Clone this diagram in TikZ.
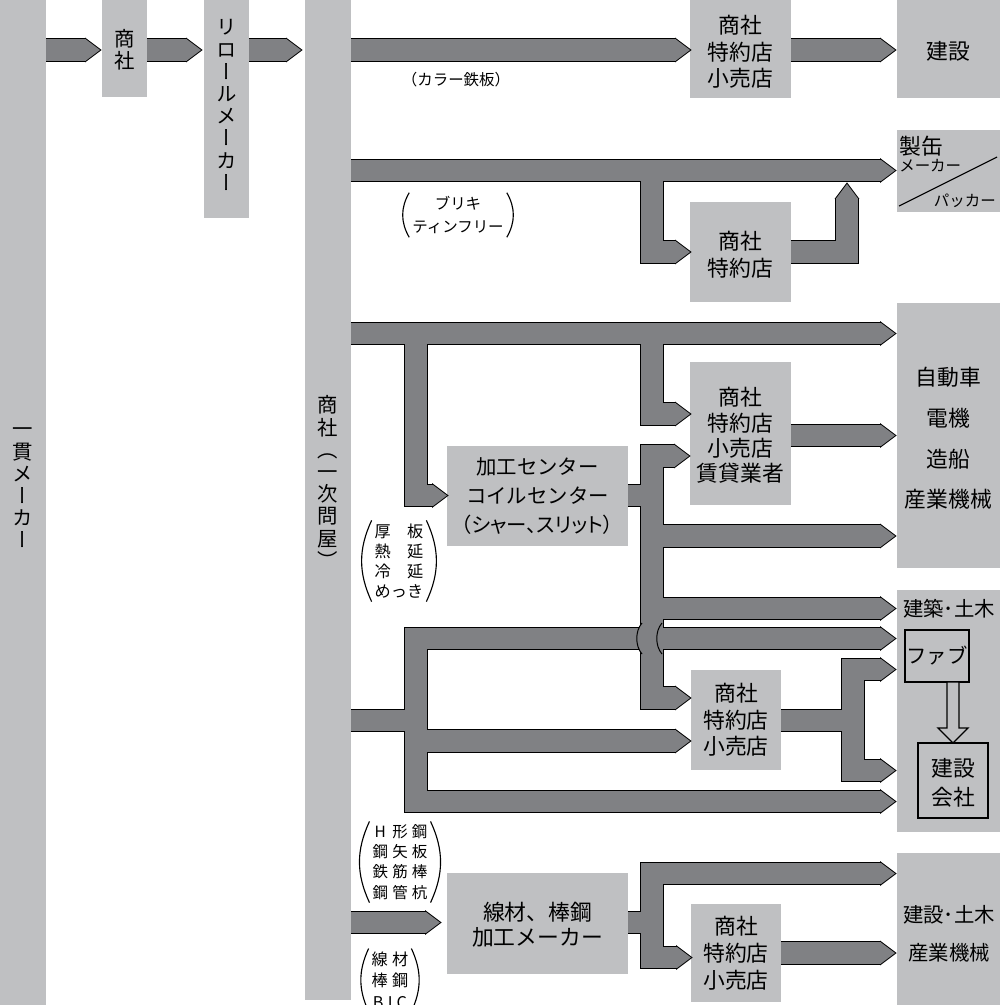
\documentclass[tikz,border=0pt]{standalone}
\usepackage{fontspec}
\setmainfont{Noto Sans CJK JP}
\newfontfamily\vfont[RawFeature=+vert]{Noto Sans CJK JP}
\newfontfamily\pfont[RawFeature=+palt]{Noto Sans CJK JP}
\usetikzlibrary{fit, calc}
\definecolor{boxgray}{RGB}{191,192,194}
\definecolor{arrowgray}{RGB}{128,129,132}

\tikzset{
  box/.style={fill=boxgray, inner sep=0pt, outer sep=0pt},
  inbox/.style={box, draw=black, line width=0.9pt},
  boxtext/.style={align=center, inner sep=0pt, font=\fontsize{15.5}{19}\selectfont},
  vtext/.style={align=center, inner sep=0pt, font=\vfont\fontsize{14.5}{15.8}\selectfont},
  note/.style={align=center, inner sep=2pt, font=\fontsize{11}{15}\selectfont},
  paren/.style={draw=black, line width=0.8pt},
  edgeline/.style={draw=black, line width=16.4pt, line join=miter},
  edgetip/.style={fill=black, draw=black, line width=1.4pt, line join=miter},
  coreline/.style={draw=arrowgray, line width=15pt, line join=miter},
  coretip/.style={fill=arrowgray},
  hollow/.style={fill=boxgray, draw=black, line width=0.9pt, line join=miter}
}

% tip of a flow arrow: [style]{x}{y}
\newcommand{\tipR}[3][]{\path[#1] ({#2-14},{#3-10.5}) -- (#2,#3) -- ({#2-14},{#3+10.5}) -- cycle;}
\newcommand{\tipU}[3][]{\path[#1] ({#2-10.5},{#3+14}) -- (#2,#3) -- ({#2+10.5},{#3+14}) -- cycle;}
\newcommand{\gapc}{\hspace{3pt}}

% all flow arrows; #1 line style, #2 tip style
\newcommand{\flows}[2]{%
  % top row
  \path[#1] (46,50) -- (86,50); \tipR[#2]{100}{50}
  \path[#1] (147,50) -- (187,50); \tipR[#2]{201}{50}
  \path[#1] (249,50) -- (287,50); \tipR[#2]{301}{50}
  \path[#1] (351,50) -- (676,50); \tipR[#2]{690}{50}
  \path[#1] (791,50) -- (881,50); \tipR[#2]{895}{50}
  % tinplate
  \path[#1] (351,170.5) -- (881,170.5); \tipR[#2]{895}{170.5}
  \path[#1] (652,170.5) -- (652,252) -- (676,252); \tipR[#2]{690}{252}
  \path[#1] (791,252) -- (847,252) -- (847,198); \tipU[#2]{847}{184}
  % sheets
  \path[#1] (351,333.5) -- (881,333.5); \tipR[#2]{895}{333.5}
  \path[#1] (416,333.5) -- (416,495.5) -- (433,495.5); \tipR[#2]{447}{495.5}
  \path[#1] (652,333.5) -- (652,414) -- (676,414); \tipR[#2]{690}{414}
  \path[#1] (791,435.5) -- (881,435.5); \tipR[#2]{895}{435.5}
  \path[#1] (628,495.5) -- (652,495.5);
  \path[#1] (675,456) -- (652,456) -- (652,698) -- (676,698);
  \tipR[#2]{689}{456} \tipR[#2]{690}{698}
  \path[#1] (652,536) -- (881,536); \tipR[#2]{895}{536}
  \path[#1] (652,608.5) -- (881,608.5); \tipR[#2]{895}{608.5}
  % building
  \path[#1] (881,638.5) -- (416,638.5) -- (416,801.5) -- (881,801.5);
  \tipR[#2]{895}{638.5} \tipR[#2]{895}{801.5}
  \path[#1] (351,720.5) -- (416,720.5);
  \path[#1] (416,741) -- (676,741); \tipR[#2]{690}{741}
  \path[#1] (781,720.5) -- (853,720.5);
  \path[#1] (881,669.5) -- (853,669.5) -- (853,770.5) -- (881,770.5);
  \tipR[#2]{895}{669.5} \tipR[#2]{895}{770.5}
  % bars and wire rod
  \path[#1] (351,922.5) -- (426,922.5); \tipR[#2]{440}{922.5}
  \path[#1] (628,922.5) -- (652,922.5);
  \path[#1] (881,873.5) -- (652,873.5) -- (652,957.5) -- (677,957.5);
  \tipR[#2]{895}{873.5} \tipR[#2]{691}{957.5}
  \path[#1] (781,953) -- (881,953); \tipR[#2]{895}{953}
}

\begin{document}
\begin{tikzpicture}[x=0.025cm, y=-0.025cm]
  \useasboundingbox (0,0) rectangle (1000,1005);

  % makers and wholesalers
  \node[box, fit={(0,0) (46,1005)}] (ikkan) {};
  \node[vtext] (ikkan-t) at (23,488) {一\\貫\\メ\\ー\\カ\\ー};
  \node[box, fit={(102,0) (147,97)}] (shosha) {};
  \node[vtext] (shosha-t) at (124.5,50) {商\\社};
  \node[box, fit={(204,0) (249,218)}] (reroll) {};
  \node[vtext] (reroll-t) at (226.5,105) {リ\\ロ\\ー\\ル\\メ\\ー\\カ\\ー};
  \node[box, fit={(305,0) (351,1000)}] (tonya) {};
  \node[vtext] (tonya-t) at (328,482) {商\\社\\（\\一\\次\\問\\屋\\）};

  % dealers
  \node[box, fit={(690,0) (791,98)}] (dealer-a) {};
  \node[boxtext] (dealer-a-t) at ($(dealer-a)+(0,3)$) {商社\\特約店\\小売店};
  \node[box, fit={(690,202) (791,302)}] (dealer-b) {};
  \node[boxtext] (dealer-b-t) at ($(dealer-b)+(0,3)$) {商社\\特約店};
  \node[box, fit={(690,362) (791,505)}] (dealer-c) {};
  \node[boxtext, font=\fontsize{15.5}{18}\selectfont] (dealer-c-t) at ($(dealer-c)+(0,2)$) {商社\\特約店\\小売店\\賃貸業者};
  \node[box, fit={(691,670) (781,770)}] (dealer-d) {};
  \node[boxtext] (dealer-d-t) at (dealer-d) {商社\\特約店\\小売店};
  \node[box, fit={(691,904) (781,1002)}] (dealer-e) {};
  \node[boxtext] (dealer-e-t) at (dealer-e) {商社\\特約店\\小売店};

  % processors
  \node[box, fit={(447,446) (628,546)}] (coil) {};
  \node[boxtext, font=\fontsize{14.5}{20.5}\selectfont] (coil-t) at (coil) {加工センター\\コイルセンター\\{\pfont （シャー、スリット）}};
  \node[box, fit={(447,873) (628,974)}] (wire) {};
  \node[boxtext, font=\fontsize{15.5}{17.8}\selectfont] (wire-t) at ($(wire)+(0,1)$) {線材、棒鋼\\加工メーカー};

  % users
  \node[box, fit={(897,0) (1000,98)}] (kensetsu) {};
  \node[boxtext] (kensetsu-t) at ($(kensetsu)+(0,2)$) {建設};
  \node[box, fit={(897,130) (1000,212)}] (seikan) {};
  \node[anchor=west, inner sep=0pt, font=\fontsize{15.5}{16}\selectfont] (seikan-a) at (899,146) {製缶};
  \node[anchor=west, inner sep=0pt, font=\fontsize{11}{12}\selectfont] (seikan-b) at (899,166) {メーカー};
  \node[anchor=east, inner sep=0pt, font=\fontsize{11}{12}\selectfont] (seikan-c) at (996,201) {パッカー};
  \draw[line width=0.8pt] ($(seikan.south west)+(2,-6)$) -- ($(seikan.north east)+(-3,27)$);
  \node[box, fit={(897,303) (1000,568)}] (jidosha) {};
  \node[boxtext, font=\fontsize{15.5}{29}\selectfont] (jidosha-t) at ($(jidosha)+(0,3)$) {自動車\\電機\\造船\\産業機械};
  \node[box, fit={(897,590) (1000,832)}] (kenchiku) {};
  \node[boxtext, font=\fontsize{14.5}{18}\selectfont] (kenchiku-t) at (949,609) {建築･土木};
  \node[inbox, fit={(905,630) (969,682)}] (fab) {};
  \node[boxtext, font=\fontsize{14.5}{18}\selectfont] (fab-t) at (fab) {ファブ};
  \node[inbox, fit={(918,743) (988,818)}] (kaisha) {};
  \node[boxtext, font=\fontsize{15.5}{20.6}\selectfont] (kaisha-t) at ($(kaisha)+(0,2)$) {建設\\会社};
  \node[box, fit={(897,853) (1000,1015)}] (kensetsu-b) {};
  \node[boxtext, font=\fontsize{14.5}{27}\selectfont] (kensetsu-b-t) at (949,934) {建設･土木\\産業機械};

  % flow arrows: outline first, then the fill
  \flows{edgeline}{edgetip}
  \flows{coreline}{coretip}

  % jump where the trunk crosses the bar
  \fill[arrowgray] (642,623) .. controls (635,631) and (635,646) .. (642,654) -- cycle;
  \draw[line width=0.7pt] (642,623) .. controls (635,631) and (635,646) .. (642,654);
  \draw[line width=0.7pt] (662,623) .. controls (655,631) and (655,646) .. (662,654);

  % fab -> contractor
  \draw[hollow] (fab.south -| kaisha.north) ++(-6,0) -- ++(0,46) -- ++(-9,0) -- (kaisha.north)
    -- ++(15,-15) -- ++(-9,0) -- ++(0,-46) -- cycle;

  % product notes
  \node[note] (karaa) at (456,80) {（カラー鉄板）};
  \node[note, font=\fontsize{11}{17}\selectfont] (buriki) at (458,215) {ブリキ\\ティンフリー};
  \draw[paren] (buriki.north west) to[bend right=30] (buriki.south west);
  \draw[paren] (buriki.north east) to[bend left=30] (buriki.south east);
  \node[note, font=\fontsize{11.5}{14.4}\selectfont] (atsuita) at (399,561) {厚　板\\熱　延\\冷　延\\めっき};
  \draw[paren] (atsuita.north west) to[bend right=25] (atsuita.south west);
  \draw[paren] (atsuita.north east) to[bend left=25] (atsuita.south east);
  \node[note, font=\fontsize{11}{14.4}\selectfont] (kozai) at (400,862) {\makebox[1em]{H}\gapc 形\gapc 鋼\\鋼\gapc 矢\gapc 板\\鉄\gapc 筋\gapc 棒\\鋼\gapc 管\gapc 杭};
  \draw[paren] (kozai.north west) to[bend right=25] (kozai.south west);
  \draw[paren] (kozai.north east) to[bend left=25] (kozai.south east);
  \node[note, font=\fontsize{11.5}{15.3}\selectfont] (senzai) at (390,980) {線\gapc 材\\棒\gapc 鋼\\B\hspace{3pt}I\hspace{3pt}C};
  \draw[paren] (senzai.north west) to[bend right=25] (senzai.south west);
  \draw[paren] (senzai.north east) to[bend left=25] (senzai.south east);
\end{tikzpicture}
\end{document}
